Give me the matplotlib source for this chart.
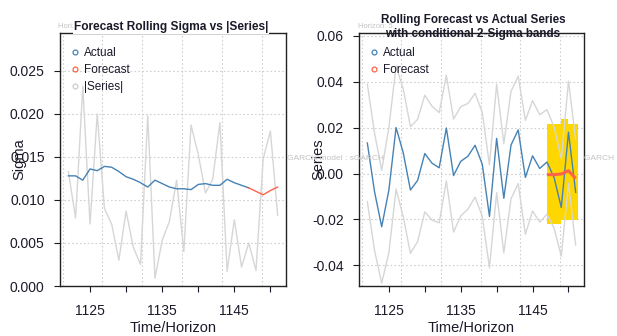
import matplotlib
matplotlib.use("Agg")
import matplotlib.pyplot as plt
from matplotlib.lines import Line2D
import numpy as np

plt.rcParams['font.family'] = ['Liberation Sans', 'DejaVu Sans']

# ---------------- data ----------------
time_idx = list(range(1122, 1152))
series = [0.0133, -0.0079, -0.0232, -0.0072, 0.0200, 0.0090, -0.0072, -0.0030, 0.0087, 0.0045,
          0.0025, 0.0198, -0.0009, 0.0053, 0.0075, 0.0123, 0.0040, -0.0187, 0.0153, -0.0108,
          0.0124, 0.0190, -0.0017, 0.0077, 0.0022, 0.0050, -0.0018, -0.0148, 0.0180, -0.0082]
abs_series = [0.0133, 0.0079, 0.0232, 0.0072, 0.0200, 0.0090, 0.0072, 0.0030, 0.0087, 0.0045,
              0.0025, 0.0198, 0.0009, 0.0053, 0.0075, 0.0123, 0.0040, 0.0187, 0.0153, 0.0108,
              0.0124, 0.0190, 0.0017, 0.0077, 0.0022, 0.0050, 0.0018, 0.0148, 0.0180, 0.0082]
upper_band = [0.0389, 0.0177, 0.0014, 0.0200, 0.0468, 0.0368, 0.0204, 0.0236, 0.0341, 0.0293,
              0.0265, 0.0428, 0.0237, 0.0291, 0.0305, 0.0349, 0.0266, 0.0037, 0.0389, 0.0130,
              0.0358, 0.0424, 0.0231, 0.0317, 0.0256, 0.0278, 0.0202, 0.0064, 0.0402, 0.0148]
lower_band = [-0.0123, -0.0335, -0.0478, -0.0344, -0.0068, -0.0188, -0.0348, -0.0296, -0.0167, -0.0203,
              -0.0215, -0.0032, -0.0255, -0.0185, -0.0155, -0.0103, -0.0186, -0.0411, -0.0083, -0.0346,
              -0.0110, -0.0044, -0.0265, -0.0163, -0.0212, -0.0178, -0.0238, -0.0360, -0.0042, -0.0312]

actual_idx = list(range(1122, 1148))
sigma_actual = [0.0128, 0.0128, 0.0123, 0.0136, 0.0134, 0.0139, 0.0138, 0.0133, 0.0127, 0.0124,
                0.0120, 0.0115, 0.0123, 0.0119, 0.0115, 0.0113, 0.0113, 0.0112, 0.0118, 0.0119,
                0.0117, 0.0117, 0.0124, 0.0120, 0.0117, 0.0114]
fc_idx = [1147, 1148, 1149, 1150, 1151]
sigma_fc = [0.0114, 0.0110, 0.0106, 0.0111, 0.0115]
mean_fc = [-0.0005, -0.0005, -0.0002, 0.0012, -0.0022]
fc_upper = [0.0216, 0.0216, 0.0236, 0.0216, 0.0216]
fc_lower = [-0.0221, -0.0221, -0.0204, -0.0204, -0.0204]

x_ticks = [1125, 1130, 1135, 1140, 1145, 1150]
x_ticklabels = ['1125', '', '1135', '', '1145', '']
left_yticks = [0.000, 0.005, 0.010, 0.015, 0.020, 0.025]
right_yticks = [-0.04, -0.02, 0.00, 0.02, 0.04, 0.06]

# ---------------- style ----------------
BLUE = '#4682B4'
RED = '#FF6347'
GRAY = '#D6D6D6'
GOLD = '#FFD700'
GRID = '#CFCFCF'
TXT = '#1a1a2a'
grid_x = [1121.2, 1126.72, 1132.24, 1137.76, 1143.28, 1148.8]

W, H = 617, 336
fig = plt.figure(figsize=(W / 100, H / 100), dpi=100)
fig.patch.set_facecolor('white')

axL = fig.add_axes([60 / W, 1 - 286 / H, 226 / W, 253 / H])
axR = fig.add_axes([359 / W, 1 - 286 / H, 225 / W, 253 / H])


def style_axis(ax, yticks, yfmt):
    ax.set_xlim(1120.84, 1152.16)
    ax.set_xticks(x_ticks)
    ax.set_xticklabels(x_ticklabels)
    ax.set_yticks(yticks)
    ax.set_yticklabels([yfmt.format(v) for v in yticks])
    ax.tick_params(axis='both', labelsize=10, colors=TXT, length=4, width=0.8)
    ax.tick_params(axis='y', pad=7)
    ax.tick_params(axis='x', pad=9)
    for s in ax.spines.values():
        s.set_linewidth(1.0)
        s.set_color('#222222')
    for gx in grid_x:
        ax.axvline(gx, color=GRID, lw=0.8, ls=(0, (1.5, 2)), zorder=0)
    for gy in yticks:
        ax.axhline(gy, color=GRID, lw=0.8, ls=(0, (1.5, 2)), zorder=0)
    ax.set_xlabel('Time/Horizon', fontsize=10.5, color=TXT)
    ax.xaxis.set_label_coords(0.5, -0.166)
    ax.xaxis.label.set_va('center')


def add_legend(ax, labels, colors):
    handles = [Line2D([], [], ls='none', marker='o', mfc='none', mec=c, ms=3.5, mew=0.9)
               for c in colors]
    leg = ax.legend(handles, labels, loc='upper left',
                    bbox_to_anchor=(-0.005, 0.99), frameon=False, fontsize=8.5,
                    handlelength=0.8, handletextpad=0.4, labelspacing=0.42, borderaxespad=0.55)
    for t in leg.get_texts():
        t.set_color(TXT)


# ---------------- left panel ----------------
style_axis(axL, left_yticks, '{:.3f}')
axL.set_ylim(0, 0.0294)
axL.plot(time_idx, abs_series, color=GRAY, lw=1.0, zorder=2)
axL.plot(actual_idx, sigma_actual, color=BLUE, lw=1.0, zorder=3)
axL.plot(fc_idx, sigma_fc, color=RED, lw=1.0, zorder=3)
axL.set_ylabel('Sigma', fontsize=10.5, color=TXT)
axL.yaxis.set_label_coords(-0.181, 0.5)
axL.yaxis.label.set_va('center')
add_legend(axL, ['Actual', 'Forecast', '|Series|'], (BLUE, RED, '#CCCCCC'))

# ---------------- right panel ----------------
style_axis(axR, right_yticks, '{:.2f}')
axR.set_ylim(-0.049, 0.0612)
fc_edges = fc_idx + [fc_idx[-1] + 0.35]
axR.fill_between(fc_edges, fc_upper + [fc_upper[-1]], fc_lower + [fc_lower[-1]],
                 step='post', color=GOLD, lw=0, zorder=1)
axR.plot(time_idx, upper_band, color=GRAY, lw=1.0, zorder=2)
axR.plot(time_idx, lower_band, color=GRAY, lw=1.0, zorder=2)
axR.plot(time_idx, series, color=BLUE, lw=1.0, zorder=3)
axR.plot(fc_idx, mean_fc, color=RED, lw=2.2, zorder=4, solid_capstyle='butt')
axR.set_ylabel('Series', fontsize=10.5, color=TXT)
axR.yaxis.set_label_coords(-0.18, 0.5)
axR.yaxis.label.set_va('center')
add_legend(axR, ['Actual', 'Forecast'], (BLUE, RED))

# ---------------- titles & faint notes ----------------
faint = '#C4C4C4'
fig.text(58 / W, 1 - 27 / H, 'Horizon: 5', fontsize=5.5, color=faint, va='center', ha='left', zorder=0)
fig.text(358 / W, 1 - 27 / H, 'Horizon: 5', fontsize=5.5, color=faint, va='center', ha='left', zorder=0)
fig.text(287 / W, 1 - 159 / H, 'GARCH model : sGARCH', fontsize=6, color=faint, va='center', ha='left', zorder=0)
fig.text(584 / W, 1 - 159 / H, 'GARCH model : sGARCH', fontsize=6, color=faint, va='center', ha='left', zorder=0)

fig.text(171 / W, 1 - 27 / H, 'Forecast Rolling Sigma vs |Series|', fontsize=8.6,
         fontweight='bold', color=TXT, ha='center', va='center', zorder=5,
         bbox=dict(facecolor='white', edgecolor='none', pad=0.5))
fig.text(473 / W, 1 - 20 / H, 'Rolling Forecast vs Actual Series', fontsize=8.4,
         fontweight='bold', color=TXT, ha='center', va='center', zorder=5)
fig.text(473 / W, 1 - 34 / H, 'with conditional 2-Sigma bands', fontsize=8.4,
         fontweight='bold', color=TXT, ha='center', va='center', zorder=5)

fig.savefig('out.png', dpi=100, facecolor='white')
